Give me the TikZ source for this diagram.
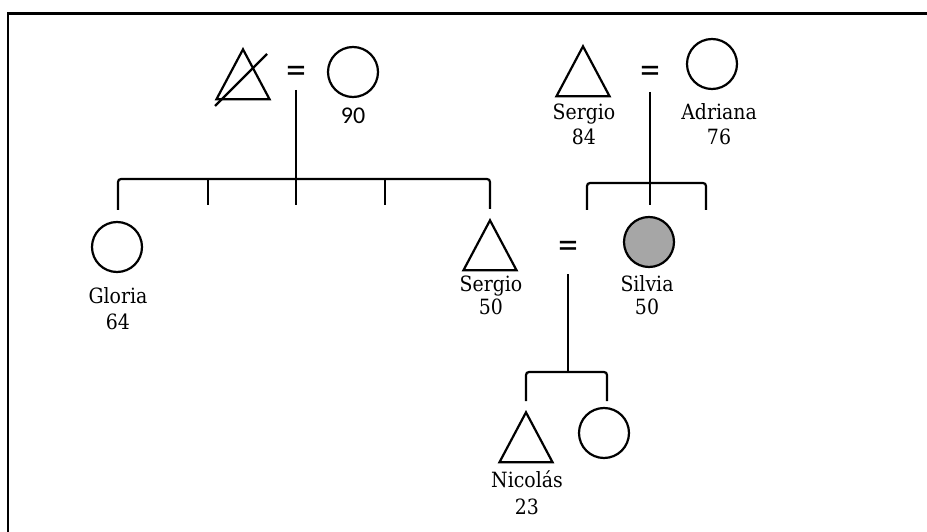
\documentclass[tikz,border=0pt]{standalone}
\usepackage{fontspec}
\setmainfont{DejaVu Serif Condensed}
\newfontfamily\eqfont{Carlito}
\usetikzlibrary{shapes.geometric}
\begin{document}
\begin{tikzpicture}[x=1pt,y=-1pt,line width=2.2pt,
  male/.style={draw,isosceles triangle,shape border rotate=90,isosceles triangle apex angle=56,minimum width=47,minimum height=50,inner sep=0pt,anchor=apex},
  female/.style={draw,circle,minimum size=50,inner sep=0pt},
  lbl/.style={font=\fontsize{21}{25}\selectfont,inner sep=0pt,anchor=base},
  num/.style={font=\eqfont\fontsize{24}{26}\selectfont,inner sep=0pt,anchor=base},
  eq/.style={font=\eqfont\fontsize{40}{40}\selectfont,inner sep=0pt},
  bar/.style={rounded corners=3pt},
  frame/.style={line width=2.8pt}]
\useasboundingbox (0,0) rectangle (927,532);
% frame
\coordinate (fa) at (8,532);
\coordinate (fb) at (8,13.3);
\coordinate (fc) at (927,13.3);
\draw[frame] (fa) -- (fb) -- (fc);

% generation I, left couple
\node[male] (dm) at (243,47) {};
\draw ([shift={(-28,59)}]dm.apex) -- ([shift={(24,7)}]dm.apex);
\node[eq] (eq1) at (296,75) {=};
\node[female] (f90) at (353,72) {};
\node[num] (l90) at (353,124) {90};

% generation I, right couple
\node[male] (s84) at (583,44) {};
\node[lbl] (ls84a) at (584,120) {Sergio};
\node[lbl] (ls84b) at (584,145) {84};
\node[eq] (eq2) at (650,75) {=};
\node[female] (a76) at (712,64) {};
\node[lbl] (la76a) at (719,120) {Adriana};
\node[lbl] (la76b) at (719,145) {76};

% generation II
\node[female] (glo) at (117,247) {};
\node[lbl] (lgloa) at (118,303) {Gloria};
\node[lbl] (lglob) at (118,329) {64};
\node[male] (s50) at (490,218) {};
\node[lbl] (ls50a) at (491,291) {Sergio};
\node[lbl] (ls50b) at (491,314) {50};
\node[eq] (eq3) at (568,250) {=};
\node[female,fill={rgb,255:red,166;green,166;blue,166}] (sil) at (649,242) {};
\node[lbl] (lsila) at (647,291) {Silvia};
\node[lbl] (lsilb) at (647,314) {50};

% generation III
\node[male] (nic) at (526,410) {};
\node[lbl] (lnica) at (527,487) {Nicolás};
\node[lbl] (lnicb) at (527,514) {23};
\node[female] (f3) at (604,433) {};

% sibship 1
\coordinate (u1) at (296,90);
\coordinate (j1) at (296,179);
\coordinate (g1) at (118,210);
\coordinate (g5) at (490,209);
\coordinate (t2a) at (208,179);
\coordinate (t2b) at (208,205);
\coordinate (t4a) at (385,179);
\coordinate (t4b) at (385,205);
\coordinate (t3b) at (296,205);
\draw (u1) -- (t3b);
\draw[bar] (g1) |- (j1) -| (g5);
\draw (t2a) -- (t2b);
\draw (t4a) -- (t4b);

% sibship 2
\coordinate (u2) at (650,92);
\coordinate (j2) at (650,183);
\coordinate (c2) at (650,205);
\coordinate (b2l) at (587,210);
\coordinate (b2r) at (706,210);
\draw (u2) -- (c2);
\draw[bar] (b2l) |- (j2) -| (b2r);

% sibship 3
\coordinate (u3) at (568,274);
\coordinate (j3) at (568,372);
\coordinate (b3l) at (526,401);
\coordinate (b3r) at (607,401);
\draw (u3) -- (j3);
\draw[bar] (b3l) |- (j3) -| (b3r);
\end{tikzpicture}
\end{document}
